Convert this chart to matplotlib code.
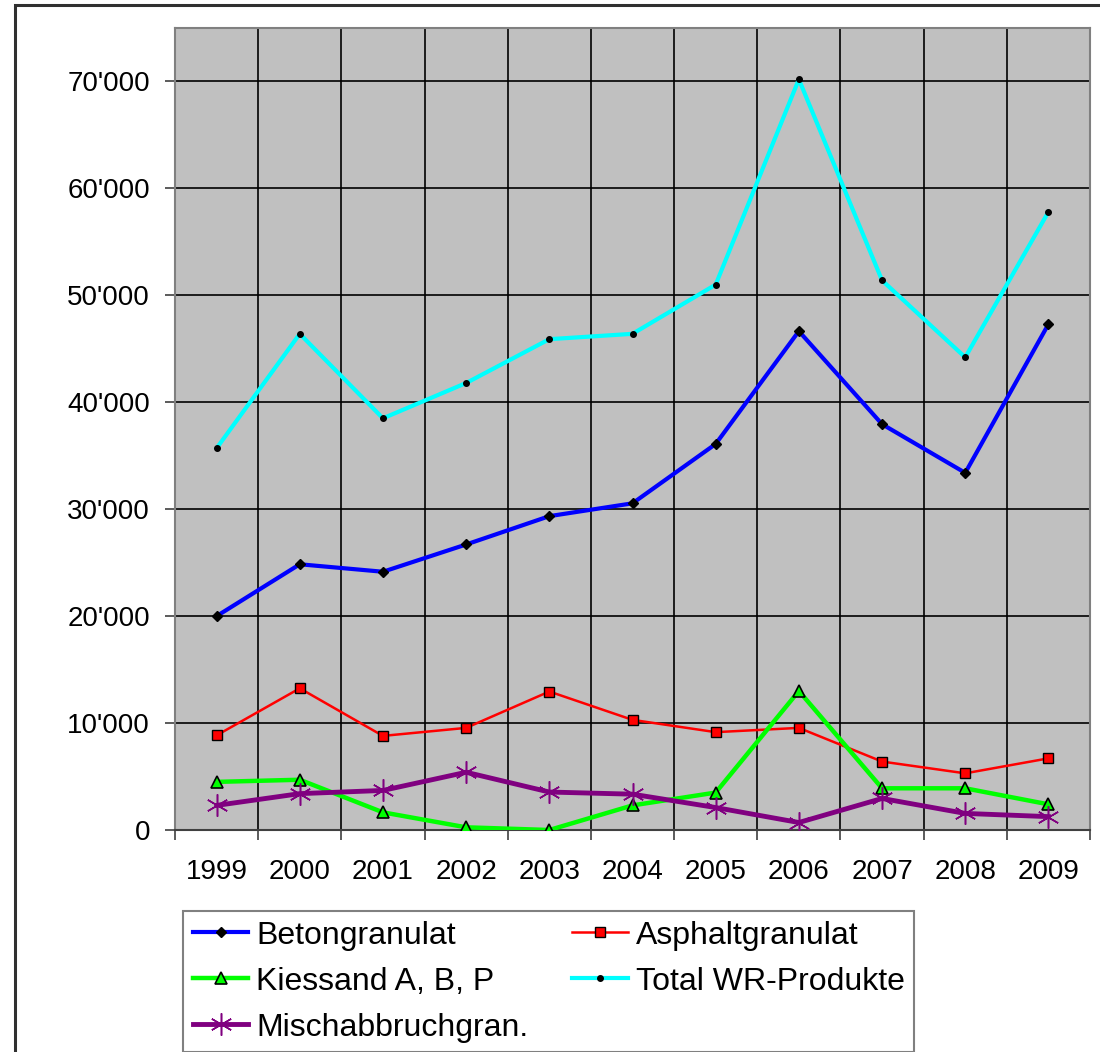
import numpy as np
import matplotlib
matplotlib.use("Agg")
import matplotlib.pyplot as plt
from matplotlib import ticker
from matplotlib.patches import Rectangle

plt.rcParams['font.family'] = ['Liberation Sans', 'DejaVu Sans']

# Data
years = ['1999', '2000', '2001', '2002', '2003', '2004', '2005', '2006', '2007', '2008', '2009']
beton = [20000, 24850, 24150, 26700, 29350, 30550, 36100, 46650, 37950, 33400, 47300]
asphalt = [8850, 13250, 8800, 9550, 12950, 10300, 9150, 9550, 6400, 5300, 6700]
kiessand = [4500, 4700, 1650, 250, 0, 2300, 3500, 13000, 3900, 3900, 2400]
total = [35700, 46400, 38500, 41800, 45900, 46400, 51000, 70200, 51400, 44200, 57800]
misch = [2300, 3400, 3700, 5400, 3550, 3350, 2100, 700, 2950, 1550, 1250]

x = np.arange(len(years))

fig = plt.figure(figsize=(11, 10.52), dpi=100)
ax = fig.add_axes([175/1100, 1-830/1052, (1090-175)/1100, (830-28)/1052])
ax.set_facecolor('#c0c0c0')

# Grid: horizontal at values, vertical between categories
for v in range(10000, 75000, 10000):
    ax.axhline(v, color='black', lw=1.2, zorder=1)
for b in np.arange(0.5, len(years) - 0.5, 1):
    ax.axvline(b, color='black', lw=1.2, zorder=1)

ax.plot(x, beton, color='#0000ff', lw=3, marker='D', ms=5.5, mfc='black', mec='black', label='Betongranulat', zorder=3)
ax.plot(x, asphalt, color='#ff0000', lw=1.8, marker='s', ms=7.5, mfc='#ff0000', mec='black', mew=1, label='Asphaltgranulat', zorder=3)
ax.plot(x, kiessand, color='#00ff00', lw=3.2, marker='^', ms=8.5, mfc='#00ff00', mec='black', mew=1.2, label='Kiessand A, B, P', zorder=3)
ax.plot(x, total, color='#00ffff', lw=3, marker='o', ms=4, mfc='black', mec='black', label='Total WR-Produkte', zorder=3)
ax.plot(x, misch, color='#800080', lw=3.5, marker=(6, 2, 0), ms=16, mec='#800080', mew=1.1, label='Mischabbruchgran.', zorder=3)

ax.set_xlim(-0.5, len(years) - 0.5)
ax.set_ylim(0, 75000)

ax.set_xticks(np.arange(-0.5, len(years), 1))
ax.set_xticklabels([])
ax.set_xticks(x, minor=True)
ax.set_xticklabels(years, minor=True)
ax.tick_params(axis='x', which='major', direction='out', length=7, width=1.2, color='#404040')
ax.tick_params(axis='x', which='minor', length=0, pad=21, labelsize=20)

ax.set_yticks(range(0, 75000, 10000))
ax.yaxis.set_major_formatter(ticker.FuncFormatter(lambda v, p: f"{v:,.0f}".replace(",", "'")))
ax.tick_params(axis='y', direction='out', length=7, width=1.2, color='#404040', labelsize=20, pad=11)

for side in ['top', 'right', 'left']:
    ax.spines[side].set_color('#808080')
    ax.spines[side].set_linewidth(1.5)
ax.spines['bottom'].set_color('#404040')
ax.spines['bottom'].set_linewidth(1.5)

handles, labels = ax.get_legend_handles_labels()
order = [0, 2, 4, 1, 3]
leg = fig.legend([handles[i] for i in order], [labels[i] for i in order],
                 loc='upper left', bbox_to_anchor=(183/1100, 1-911/1052), ncol=2,
                 fontsize=23, frameon=True, fancybox=False, edgecolor='#606060',
                 handlelength=1.75, handletextpad=0.25, columnspacing=1.35,
                 labelspacing=0.5, borderpad=0.3, borderaxespad=0)
leg.get_frame().set_linewidth(1.5)

# outer chart border
fig.patches.append(Rectangle((15/1100, -0.05), 1.2, 1.05 - 5/1052, transform=fig.transFigure,
                             fill=False, edgecolor='#303030', lw=2.2, clip_on=False))

fig.savefig('out.png', dpi=100)
